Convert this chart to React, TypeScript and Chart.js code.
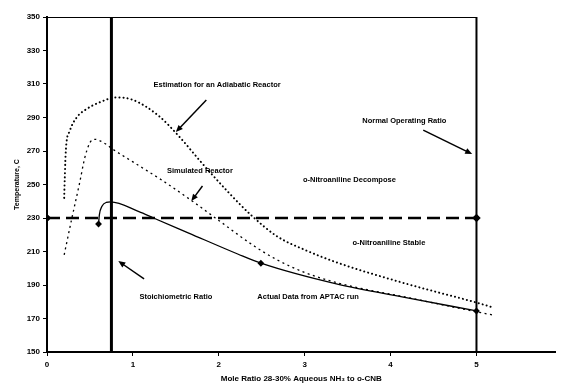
import React, { useEffect, useRef } from "react";
import { Chart, registerables } from "chart.js";

Chart.register(...registerables);

// ---- data ----
const adiabaticX = [0.2, 0.207, 0.22, 0.265, 0.345, 0.46, 0.61, 0.81, 1.0, 1.3, 1.55, 1.8, 2.1, 2.37, 2.68, 3.0, 3.4, 4.2, 5.0, 5.2];
const adiabaticY = [242, 254, 271, 282, 290, 295, 299, 302, 300.5, 291, 278, 263, 246, 232, 219, 211, 203, 190.5, 179.5, 176.5];

const simulatedX = [0.2, 0.29, 0.38, 0.44, 0.5, 0.55, 0.69, 0.74, 1.0, 1.34, 1.68, 2.0, 2.42, 2.68, 3.0, 3.4, 4.2, 5.0, 5.2];
const simulatedY = [208, 230, 251, 266, 275, 277, 274, 272, 263.5, 252.5, 240.5, 228.5, 213, 205, 197.5, 191, 182.5, 174, 172];

const actualX = [0.6, 0.61, 0.64, 0.69, 0.74, 1.07, 1.24, 1.65, 2.22, 2.49, 3.38, 4.18, 5.0];
const actualY = [226.4, 232, 237, 239.3, 239.6, 233.8, 230, 221, 208.5, 203, 190.5, 182.5, 174.5];
const actualMarked = [0.6, 2.49, 5.0];

const limitX = [0, 5];
const limitY = [230, 230];

const stoichRatio = 0.75;
const normalRatio = 5;
const yMin = 150;
const yMax = 350;
const xMax = 5.92;
const xTickLabels = ["0", "1", "2", "3", "4", "5"];

const notes = [
  { text: "Estimation for an Adiabatic Reactor", x: 1.98, y: 309.4 },
  { text: "Simulated Reactor", x: 1.78, y: 258.2 },
  { text: "o-Nitroaniline Decompose", x: 3.52, y: 252.7 },
  { text: "o-Nitroaniline Stable", x: 3.98, y: 214.9 },
  { text: "Normal Operating Ratio", x: 4.16, y: 287.9 },
  { text: "Actual Data from APTAC run", x: 3.04, y: 182.7 },
  { text: "Stoichiometric Ratio", x: 1.5, y: 183 },
];

const arrows = [
  { x1: 1.855, y1: 300.4, x2: 1.5, y2: 281.3 },
  { x1: 1.81, y1: 249.1, x2: 1.68, y2: 240.1 },
  { x1: 4.38, y1: 282.5, x2: 4.95, y2: 268.2 },
  { x1: 1.13, y1: 193.6, x2: 0.83, y2: 204.3 },
];

const pts = (xs: number[], ys: number[]) => xs.map((x, i) => ({ x, y: ys[i] }));

const FONT = '"Liberation Sans", Arial, sans-serif';

const annotPlugin = {
  id: "annot",
  afterDatasetsDraw(chart: any) {
    const { ctx, scales } = chart;
    const xs = scales.x;
    const ys = scales.y;
    ctx.save();
    ctx.fillStyle = "#000";
    ctx.strokeStyle = "#000";
    ctx.font = `bold 7.5px ${FONT}`;
    ctx.textAlign = "center";
    ctx.textBaseline = "middle";
    notes.forEach((n) => {
      ctx.fillText(n.text, xs.getPixelForValue(n.x), ys.getPixelForValue(n.y));
    });
    arrows.forEach((a) => {
      const px1 = xs.getPixelForValue(a.x1);
      const py1 = ys.getPixelForValue(a.y1);
      const px2 = xs.getPixelForValue(a.x2);
      const py2 = ys.getPixelForValue(a.y2);
      const ang = Math.atan2(py2 - py1, px2 - px1);
      const hl = 7;
      const hw = 3;
      ctx.lineWidth = 1.5;
      ctx.beginPath();
      ctx.moveTo(px1, py1);
      ctx.lineTo(px2 - Math.cos(ang) * hl * 0.8, py2 - Math.sin(ang) * hl * 0.8);
      ctx.stroke();
      ctx.beginPath();
      ctx.moveTo(px2, py2);
      ctx.lineTo(px2 - Math.cos(ang) * hl - Math.sin(ang) * hw, py2 - Math.sin(ang) * hl + Math.cos(ang) * hw);
      ctx.lineTo(px2 - Math.cos(ang) * hl + Math.sin(ang) * hw, py2 - Math.sin(ang) * hl - Math.cos(ang) * hw);
      ctx.closePath();
      ctx.fill();
    });
    ctx.restore();
  },
};

export default function App() {
  const ref = useRef<HTMLCanvasElement | null>(null);
  useEffect(() => {
    if (!ref.current) return;
    const chart = new Chart(ref.current, {
      type: "line",
      data: {
        datasets: [
          {
            data: pts(actualX, actualY),
            borderColor: "#000",
            borderWidth: 1.3,
            cubicInterpolationMode: "monotone",
            pointRadius: actualX.map((x) => (actualMarked.includes(x) ? 2.5 : 0)),
            pointStyle: "rectRot",
            pointBackgroundColor: "#000",
            pointBorderColor: "#000",
          },
          {
            data: pts(adiabaticX, adiabaticY),
            borderColor: "#000",
            borderWidth: 2,
            borderDash: [0.1, 4],
            borderCapStyle: "round",
            cubicInterpolationMode: "monotone",
            pointRadius: 0,
          },
          {
            data: pts(simulatedX, simulatedY),
            borderColor: "#000",
            borderWidth: 1.3,
            borderDash: [2, 3.5],
            cubicInterpolationMode: "monotone",
            pointRadius: 0,
          },
          {
            data: pts(limitX, limitY),
            borderColor: "#000",
            borderWidth: 2.5,
            borderDash: [13, 6],
            pointRadius: 2.5,
            pointStyle: "rectRot",
            pointBackgroundColor: "#000",
            pointBorderColor: "#000",
          },
          {
            data: [{ x: stoichRatio, y: yMin }, { x: stoichRatio, y: yMax }],
            borderColor: "#000",
            borderWidth: 3,
            pointRadius: 0,
          },
          {
            data: [{ x: normalRatio, y: yMin }, { x: normalRatio, y: yMax }],
            borderColor: "#000",
            borderWidth: 2,
            pointRadius: 0,
          },
          {
            data: [{ x: 0, y: yMax }, { x: normalRatio, y: yMax }],
            borderColor: "#000",
            borderWidth: 2,
            pointRadius: 0,
          },
        ],
      },
      options: {
        responsive: false,
        animation: false,
        devicePixelRatio: 1,
        layout: { padding: { top: 17, right: 0, left: 0, bottom: 0 } },
        plugins: { legend: { display: false }, tooltip: { enabled: false } },
        elements: { line: { tension: 0 } },
        scales: {
          x: {
            type: "linear",
            min: 0,
            max: xMax,
            afterFit: (s: any) => {
              s.height = 32;
            },
            grid: { drawOnChartArea: false, tickLength: 4, color: "#000", lineWidth: 1 },
            border: { color: "#000", width: 2 },
            ticks: {
              stepSize: 1,
              includeBounds: false,
              autoSkip: false,
              maxRotation: 0,
              padding: 4,
              color: "#000",
              font: { family: FONT, size: 8, weight: "bold" },
              callback: (v: any) => xTickLabels[Math.round(v)] ?? "",
            },
            title: {
              display: true,
              text: "Mole Ratio 28-30% Aqueous NH\u2083 to o-CNB",
              color: "#000",
              font: { family: FONT, size: 8, weight: "bold" },
              padding: { top: 0, bottom: 0 },
            },
          },
          y: {
            type: "linear",
            min: yMin,
            max: yMax,
            afterFit: (s: any) => {
              s.width = 47;
            },
            grid: { drawOnChartArea: false, tickLength: 4, color: "#000", lineWidth: 1 },
            border: { color: "#000", width: 2 },
            ticks: {
              stepSize: 20,
              padding: 3,
              color: "#000",
              font: { family: FONT, size: 8, weight: "bold" },
            },
            title: {
              display: true,
              text: "Temperature, C",
              color: "#000",
              font: { family: FONT, size: 7, weight: "bold" },
              padding: { top: 13, bottom: 0 },
            },
          },
        },
      },
      plugins: [annotPlugin],
    } as any);
    return () => chart.destroy();
  }, []);
  return (
    <div style={{ position: "fixed", left: 0, top: 0, width: 562, height: 384, background: "#fff" }}>
      <canvas ref={ref} width={562} height={384} style={{ display: "block" }} />
    </div>
  );
}
